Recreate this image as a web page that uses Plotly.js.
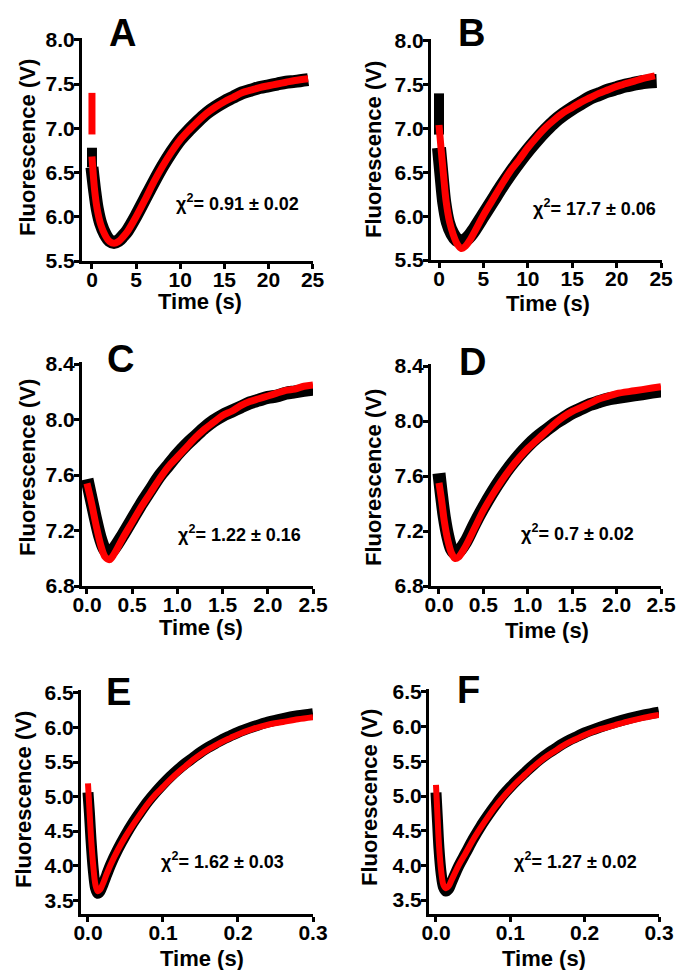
<!DOCTYPE html>
<html>
<head>
<meta charset="utf-8">
<script src="https://cdn.plot.ly/plotly-3.0.1.min.js"></script>
<style>html,body{margin:0;padding:0;background:#fff;}#chart{width:679px;height:970px;}</style>
</head>
<body>
<div id="chart"></div>
<script>
// ---------------- Panel A (time in s, fluorescence in V) ----------------
const tA_data = [0, 0.3, 0.6, 1.0, 1.5, 2.0, 2.5, 3.0, 3.5, 4.0, 5.0, 6.0, 7.0, 8.0, 9.0, 10, 11, 12, 13, 14, 15, 16, 17, 18, 19, 20, 21, 22, 23, 24.5];
const fA_data = [6.56, 6.30, 6.09, 5.92, 5.80, 5.73, 5.71, 5.73, 5.78, 5.84, 6.01, 6.20, 6.39, 6.57, 6.73, 6.87, 6.98, 7.08, 7.17, 7.24, 7.30, 7.35, 7.40, 7.43, 7.46, 7.48, 7.50, 7.52, 7.53, 7.55];
const tA_fit = [0, 0.3, 0.6, 1.0, 1.5, 2.0, 2.5, 3.0, 3.5, 4.0, 5.0, 6.0, 7.0, 8.0, 9.0, 10, 11, 12, 13, 14, 15, 16, 17, 18, 19, 20, 21, 22, 23, 24.5];
const fA_fit = [6.68, 6.30, 6.08, 5.91, 5.79, 5.72, 5.70, 5.72, 5.77, 5.83, 6.00, 6.19, 6.39, 6.57, 6.73, 6.87, 6.98, 7.08, 7.17, 7.24, 7.30, 7.35, 7.40, 7.43, 7.46, 7.48, 7.50, 7.52, 7.54, 7.56];
const tA_bar = [0, 0];      // initial fit segment at t = 0
const fA_bar = [7.40, 6.93];
const tA_dbar = [0, 0];     // initial data segment at t = 0
const fA_dbar = [6.78, 6.56];

// ---------------- Panel B ----------------
const tB_data = [0, 0.3, 0.6, 1.0, 1.5, 2.0, 2.5, 3.0, 3.5, 4.0, 5.0, 6.0, 7.0, 8.0, 9.0, 10, 11, 12, 13, 14, 15, 16, 17, 18, 19, 20, 21, 22, 23, 24.5];
const fB_data = [6.78, 6.45, 6.15, 5.93, 5.80, 5.73, 5.71, 5.73, 5.78, 5.85, 6.01, 6.17, 6.33, 6.48, 6.62, 6.75, 6.87, 6.98, 7.08, 7.16, 7.23, 7.29, 7.35, 7.39, 7.43, 7.46, 7.49, 7.51, 7.53, 7.54];
const tB_fit = [0, 0.25, 0.5, 0.8, 1.2, 1.6, 2.0, 2.5, 3.0, 3.5, 4.0, 5.0, 6.0, 7.0, 8.0, 9.0, 10, 11, 12, 13, 14, 15, 16, 17, 18, 19, 20, 21, 22, 23, 24.3];
const fB_fit = [7.04, 6.75, 6.48, 6.17, 5.93, 5.79, 5.69, 5.63, 5.66, 5.73, 5.82, 6.01, 6.18, 6.35, 6.51, 6.64, 6.78, 6.90, 7.01, 7.10, 7.18, 7.24, 7.30, 7.35, 7.40, 7.44, 7.48, 7.51, 7.54, 7.57, 7.60];
const tB_dbar = [0, 0];
const fB_dbar = [7.40, 6.93];

// ---------------- Panel C ----------------
const tC_data = [0, 0.05, 0.1, 0.15, 0.2, 0.25, 0.3, 0.4, 0.5, 0.6, 0.7, 0.8, 0.9, 1.0, 1.1, 1.2, 1.3, 1.4, 1.5, 1.6, 1.7, 1.8, 1.9, 2.0, 2.1, 2.2, 2.3, 2.4, 2.5];
const fC_data = [7.57, 7.42, 7.27, 7.14, 7.06, 7.04, 7.07, 7.17, 7.28, 7.39, 7.49, 7.59, 7.67, 7.75, 7.82, 7.88, 7.94, 7.99, 8.03, 8.06, 8.09, 8.12, 8.14, 8.16, 8.17, 8.19, 8.20, 8.21, 8.22];
const tC_fit = [0, 0.05, 0.1, 0.15, 0.2, 0.25, 0.3, 0.4, 0.5, 0.6, 0.7, 0.8, 0.9, 1.0, 1.1, 1.2, 1.3, 1.4, 1.5, 1.6, 1.7, 1.8, 1.9, 2.0, 2.1, 2.2, 2.3, 2.4, 2.5];
const fC_fit = [7.54, 7.40, 7.24, 7.10, 7.01, 6.99, 7.03, 7.15, 7.26, 7.37, 7.47, 7.57, 7.66, 7.73, 7.80, 7.87, 7.93, 7.98, 8.03, 8.06, 8.10, 8.13, 8.15, 8.17, 8.19, 8.21, 8.22, 8.24, 8.25];

// ---------------- Panel D ----------------
const tD_data = [0, 0.03, 0.06, 0.1, 0.14, 0.18, 0.22, 0.3, 0.4, 0.5, 0.6, 0.7, 0.8, 0.9, 1.0, 1.1, 1.2, 1.3, 1.4, 1.5, 1.6, 1.7, 1.8, 1.9, 2.0, 2.2, 2.4, 2.5];
const fD_data = [7.62, 7.45, 7.30, 7.16, 7.07, 7.04, 7.05, 7.12, 7.25, 7.37, 7.48, 7.58, 7.67, 7.75, 7.82, 7.88, 7.93, 7.98, 8.02, 8.06, 8.09, 8.12, 8.14, 8.16, 8.17, 8.19, 8.21, 8.22];
const tD_fit = [0, 0.03, 0.06, 0.1, 0.14, 0.18, 0.22, 0.3, 0.4, 0.5, 0.6, 0.7, 0.8, 0.9, 1.0, 1.1, 1.2, 1.3, 1.4, 1.5, 1.6, 1.7, 1.8, 1.9, 2.0, 2.2, 2.4, 2.5];
const fD_fit = [7.55, 7.42, 7.27, 7.13, 7.04, 7.00, 7.01, 7.09, 7.22, 7.35, 7.46, 7.56, 7.65, 7.73, 7.80, 7.86, 7.92, 7.98, 8.03, 8.07, 8.10, 8.13, 8.16, 8.18, 8.20, 8.22, 8.24, 8.25];

// ---------------- Panel E ----------------
const tE_data = [0, 0.002, 0.004, 0.007, 0.01, 0.013, 0.016, 0.02, 0.025, 0.03, 0.04, 0.05, 0.06, 0.07, 0.08, 0.09, 0.1, 0.11, 0.12, 0.13, 0.14, 0.15, 0.16, 0.17, 0.18, 0.19, 0.2, 0.22, 0.24, 0.26, 0.28, 0.3];
const fE_data = [5.06, 4.75, 4.38, 3.95, 3.68, 3.60, 3.63, 3.73, 3.87, 4.01, 4.24, 4.44, 4.62, 4.78, 4.93, 5.06, 5.18, 5.29, 5.39, 5.48, 5.56, 5.64, 5.71, 5.77, 5.83, 5.88, 5.93, 6.01, 6.08, 6.13, 6.17, 6.20];
const tE_fit = [0, 0.002, 0.004, 0.007, 0.01, 0.013, 0.016, 0.02, 0.025, 0.03, 0.04, 0.05, 0.06, 0.07, 0.08, 0.09, 0.1, 0.11, 0.12, 0.13, 0.14, 0.15, 0.16, 0.17, 0.18, 0.19, 0.2, 0.22, 0.24, 0.26, 0.28, 0.3];
const fE_fit = [5.19, 4.80, 4.42, 4.00, 3.72, 3.63, 3.65, 3.74, 3.88, 4.01, 4.23, 4.42, 4.59, 4.75, 4.90, 5.03, 5.14, 5.25, 5.35, 5.44, 5.53, 5.61, 5.68, 5.74, 5.80, 5.85, 5.90, 5.98, 6.04, 6.08, 6.12, 6.15];

// ---------------- Panel F ----------------
const tF_data = [0, 0.002, 0.004, 0.007, 0.01, 0.0135, 0.017, 0.021, 0.025, 0.03, 0.04, 0.05, 0.06, 0.07, 0.08, 0.09, 0.1, 0.11, 0.12, 0.13, 0.14, 0.15, 0.16, 0.17, 0.18, 0.19, 0.2, 0.22, 0.24, 0.26, 0.28, 0.3];
const fF_data = [5.05, 4.65, 4.25, 3.88, 3.69, 3.63, 3.66, 3.76, 3.86, 3.98, 4.18, 4.38, 4.56, 4.72, 4.87, 5.01, 5.13, 5.24, 5.34, 5.44, 5.53, 5.61, 5.68, 5.75, 5.81, 5.86, 5.91, 5.99, 6.06, 6.12, 6.17, 6.21];
const tF_fit = [0, 0.002, 0.004, 0.007, 0.01, 0.0135, 0.017, 0.021, 0.025, 0.03, 0.04, 0.05, 0.06, 0.07, 0.08, 0.09, 0.1, 0.11, 0.12, 0.13, 0.14, 0.15, 0.16, 0.17, 0.18, 0.19, 0.2, 0.22, 0.24, 0.26, 0.28, 0.3];
const fF_fit = [5.16, 4.72, 4.30, 3.92, 3.72, 3.67, 3.70, 3.79, 3.88, 3.99, 4.18, 4.37, 4.54, 4.70, 4.85, 4.98, 5.10, 5.21, 5.31, 5.41, 5.50, 5.58, 5.65, 5.72, 5.78, 5.83, 5.88, 5.96, 6.02, 6.08, 6.13, 6.17];

// ---------------- Labels ----------------
const panelLetters = ['A', 'B', 'C', 'D', 'E', 'F'];
const chiTexts = ['0.91 ± 0.02', '17.7 ± 0.06', '1.22 ± 0.16', '0.7 ± 0.02', '1.62 ± 0.03', '1.27 ± 0.02'];
const xTicksAB = [0, 5, 10, 15, 20, 25];
const xTicksCD = [0.0, 0.5, 1.0, 1.5, 2.0, 2.5];
const xTicksEF = [0.0, 0.1, 0.2, 0.3];
const yTicksAB = [5.5, 6.0, 6.5, 7.0, 7.5, 8.0];
const yTicksCD = [6.8, 7.2, 7.6, 8.0, 8.4];
const yTicksEF = [3.5, 4.0, 4.5, 5.0, 5.5, 6.0, 6.5];
const xTitle = 'Time (s)';
const yTitle = 'Fluorescence (V)';

// ---------------- Build ----------------
const W = 679, H = 970;
const FONT = 'Liberation Sans, Arial, sans-serif';
const traces = [];
function addLine(x, y, ax, color, width, spline) {
  traces.push({
    x: x, y: y, xaxis: 'x' + ax, yaxis: 'y' + ax, type: 'scatter', mode: 'lines',
    line: {color: color, width: width, shape: spline ? 'spline' : 'linear', smoothing: 0.9},
    hoverinfo: 'skip', showlegend: false
  });
}
// A
addLine(tA_dbar, fA_dbar, '', 'black', 10, false);
addLine(tA_data, fA_data, '', 'black', 13, true);
addLine(tA_bar, fA_bar, '', '#ff0000', 7, false);
addLine(tA_fit, fA_fit, '', '#ff0000', 7, true);
// B
addLine(tB_dbar, fB_dbar, '2', 'black', 10, false);
addLine(tB_data, fB_data, '2', 'black', 14, true);
addLine(tB_fit, fB_fit, '2', '#ff0000', 7, true);
// C
addLine(tC_data, fC_data, '3', 'black', 13, true);
addLine(tC_fit, fC_fit, '3', '#ff0000', 7, true);
// D
addLine(tD_data, fD_data, '4', 'black', 13, true);
addLine(tD_fit, fD_fit, '4', '#ff0000', 7, true);
// E
addLine(tE_data, fE_data, '5', 'black', 11, true);
addLine(tE_fit, fE_fit, '5', '#ff0000', 6, true);
// F
addLine(tF_data, fF_data, '6', 'black', 11, true);
addLine(tF_fit, fF_fit, '6', '#ff0000', 6, true);

function fmt(v, d) { return v.toFixed(d); }
function axisBase(tickvals, dec, standoff) {
  return {
    showline: true, linecolor: 'black', linewidth: 3,
    ticks: 'outside', ticklen: 5, tickwidth: 3, tickcolor: 'black',
    tickvals: tickvals, ticktext: tickvals.map(v => fmt(v, dec)),
    tickfont: {family: FONT, size: 21, color: 'black', weight: 700},
    ticklabelstandoff: standoff,
    showgrid: false, zeroline: false, fixedrange: true
  };
}
function px2x(p) { return p / W; }
function px2y(p) { return 1 - p / H; }

// panel pixel geometry: [left, right, top, bottom]
const geo = [
  [82, 313, 38, 261],
  [431, 662, 39, 260],
  [82, 313, 362, 586],
  [431, 661, 364, 586],
  [81, 313, 690, 914],
  [429, 659, 689, 914]
];
const xr = [[-1.13, 25.05], [-0.9, 25.1], [-0.055, 2.5], [-0.09, 2.5], [-0.0093, 0.3], [-0.0094, 0.3]];
const yr = [[5.5, 8.02], [5.5, 8.02], [6.8, 8.415], [6.8, 8.415], [3.3, 6.543], [3.3, 6.543]];
const xt = [xTicksAB, xTicksAB, xTicksCD, xTicksCD, xTicksEF, xTicksEF];
const xd = [0, 0, 1, 1, 1, 1];
const yt = [yTicksAB, yTicksAB, yTicksCD, yTicksCD, yTicksEF, yTicksEF];

const layout = {
  width: W, height: H, margin: {l: 0, r: 0, t: 0, b: 0},
  paper_bgcolor: 'white', plot_bgcolor: 'white', showlegend: false,
  font: {family: FONT, color: 'black'},
  annotations: []
};
for (let i = 0; i < 6; i++) {
  const s = i === 0 ? '' : String(i + 1);
  const g = geo[i];
  const xa = axisBase(xt[i], xd[i], -7);
  xa.domain = [px2x(g[0]), px2x(g[1])];
  xa.range = xr[i];
  xa.anchor = 'y' + s;
  const ya = axisBase(yt[i], 1, -5);
  ya.domain = [px2y(g[3]), px2y(g[2])];
  ya.range = yr[i];
  ya.anchor = 'x' + s;
  layout['xaxis' + s] = xa;
  layout['yaxis' + s] = ya;
}

const titleFont = {family: FONT, size: 22, color: 'black', weight: 700};
const yTitlePos = [[27, 148], [373, 150], [27, 468], [373, 478], [23, 800], [369, 797]];
const xTitlePos = [[200, 301], [548, 303], [201, 627], [547, 630], [202, 958], [544, 958]];
const letterPos = [[122, 33], [471, 33], [120, 359], [472, 362], [118, 692], [468, 690]];
const chiPos = [[237, 202], [594, 207], [239, 533], [577, 532], [222, 860], [575, 860]];
for (let i = 0; i < 6; i++) {
  layout.annotations.push({
    text: yTitle, xref: 'paper', yref: 'paper', textangle: -90,
    x: px2x(yTitlePos[i][0]), y: px2y(yTitlePos[i][1]), xanchor: 'center', yanchor: 'middle',
    showarrow: false, font: titleFont
  });
  layout.annotations.push({
    text: xTitle, xref: 'paper', yref: 'paper',
    x: px2x(xTitlePos[i][0]), y: px2y(xTitlePos[i][1]), xanchor: 'center', yanchor: 'middle',
    showarrow: false, font: titleFont
  });
  layout.annotations.push({
    text: panelLetters[i], xref: 'paper', yref: 'paper',
    x: px2x(letterPos[i][0]), y: px2y(letterPos[i][1]), xanchor: 'center', yanchor: 'middle',
    showarrow: false, font: {family: FONT, size: 38, color: 'black', weight: 700}
  });
  layout.annotations.push({
    text: 'χ<sup>2</sup>= ' + chiTexts[i], xref: 'paper', yref: 'paper',
    x: px2x(chiPos[i][0]), y: px2y(chiPos[i][1]), xanchor: 'center', yanchor: 'middle',
    showarrow: false, font: {family: FONT, size: 18, color: 'black', weight: 700}
  });
}

Plotly.newPlot('chart', traces, layout, {staticPlot: true, displayModeBar: false});
</script>
</body>
</html>
